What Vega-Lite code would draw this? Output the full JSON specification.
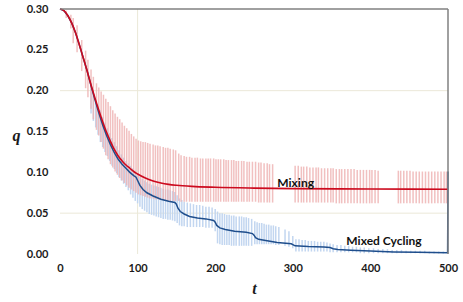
{
"$schema": "https://vega.github.io/schema/vega-lite/v6.json",
"width": 388, "height": 245,
"autosize": "none",
"padding": {"left": 60, "top": 9, "right": 15, "bottom": 48},
"background": "white",
"config": {"view": {"stroke": null},
  "axisX": {"domain": false, "ticks": false, "grid": false, "labelFlush": false, "labelFont": "Lato", "labelFontWeight": "bold", "labelFontSize": 11, "labelColor": "#1a1a1a", "labelPadding": 8,
     "titleFont": "Liberation Serif", "titleFontStyle": "italic", "titleFontWeight": "bold", "titleFontSize": 16, "titleColor": "#1a1a1a", "titleX": 194, "titleY": 34, "titleBaseline": "middle", "titleAlign": "center"},
  "axisY": {"domain": false, "ticks": false, "grid": false, "labelFlush": false, "labelFont": "Lato", "labelFontWeight": "bold", "labelFontSize": 11, "labelColor": "#1a1a1a", "labelPadding": 12,
     "titleFont": "Liberation Serif", "titleFontStyle": "italic", "titleFontWeight": "bold", "titleFontSize": 16, "titleColor": "#1a1a1a", "titleAngle": 0, "titleX": -44, "titleY": 126, "titleBaseline": "middle", "titleAlign": "center"}},
"datasets": {
"mixline": [{"t":0,"q":0.3},{"t":5,"q":0.298},{"t":10,"q":0.292},{"t":15,"q":0.283},{"t":20,"q":0.271},{"t":25,"q":0.256},{"t":30,"q":0.24},{"t":35,"q":0.224},{"t":40,"q":0.207},{"t":45,"q":0.191},{"t":50,"q":0.176},{"t":55,"q":0.162},{"t":60,"q":0.149},{"t":65,"q":0.138},{"t":70,"q":0.128},{"t":75,"q":0.12},{"t":80,"q":0.114},{"t":85,"q":0.109},{"t":90,"q":0.105},{"t":95,"q":0.101},{"t":100,"q":0.098},{"t":110,"q":0.093},{"t":120,"q":0.0895},{"t":130,"q":0.087},{"t":140,"q":0.0853},{"t":150,"q":0.0842},{"t":170,"q":0.0828},{"t":200,"q":0.0817},{"t":250,"q":0.0807},{"t":300,"q":0.0801},{"t":400,"q":0.0796},{"t":500,"q":0.0793}],
"cycline": [{"t":0,"q":0.3},{"t":5,"q":0.298},{"t":10,"q":0.292},{"t":15,"q":0.283},{"t":20,"q":0.271},{"t":25,"q":0.256},{"t":30,"q":0.24},{"t":35,"q":0.224},{"t":40,"q":0.206},{"t":45,"q":0.189},{"t":50,"q":0.173},{"t":55,"q":0.158},{"t":60,"q":0.145},{"t":65,"q":0.134},{"t":70,"q":0.124},{"t":75,"q":0.116},{"t":80,"q":0.11},{"t":85,"q":0.105},{"t":90,"q":0.1},{"t":95,"q":0.096},{"t":98,"q":0.094},{"t":100,"q":0.09},{"t":103,"q":0.084},{"t":107,"q":0.079},{"t":112,"q":0.075},{"t":120,"q":0.071},{"t":130,"q":0.067},{"t":140,"q":0.0645},{"t":148,"q":0.063},{"t":150,"q":0.061},{"t":152,"q":0.056},{"t":155,"q":0.052},{"t":160,"q":0.049},{"t":167,"q":0.046},{"t":177,"q":0.044},{"t":188,"q":0.043},{"t":198,"q":0.041},{"t":200,"q":0.039},{"t":202,"q":0.035},{"t":206,"q":0.032},{"t":213,"q":0.03},{"t":225,"q":0.028},{"t":240,"q":0.0265},{"t":248,"q":0.025},{"t":250,"q":0.023},{"t":252,"q":0.02},{"t":256,"q":0.018},{"t":265,"q":0.0165},{"t":280,"q":0.014},{"t":298,"q":0.0125},{"t":300,"q":0.0115},{"t":303,"q":0.01},{"t":320,"q":0.0092},{"t":340,"q":0.0087},{"t":348,"q":0.008},{"t":352,"q":0.0065},{"t":358,"q":0.0055},{"t":375,"q":0.0047},{"t":400,"q":0.0037},{"t":430,"q":0.0026},{"t":460,"q":0.002},{"t":499.5,"q":0.0016},{"t":500,"q":0.101}],
"mixbars": [{"t":8,"lo":0.289,"hi":0.298},{"t":14,"lo":0.276,"hi":0.293},{"t":17,"lo":0.258,"hi":0.289},{"t":22,"lo":0.247,"hi":0.28},{"t":28,"lo":0.224,"hi":0.262},{"t":33,"lo":0.203,"hi":0.249},{"t":36,"lo":0.192,"hi":0.238},{"t":40,"lo":0.178,"hi":0.226},{"t":43,"lo":0.165,"hi":0.217},{"t":47,"lo":0.152,"hi":0.209},{"t":50,"lo":0.145,"hi":0.204},{"t":53,"lo":0.137,"hi":0.199},{"t":56,"lo":0.129,"hi":0.195},{"t":59,"lo":0.121,"hi":0.19},{"t":62,"lo":0.116,"hi":0.186},{"t":65,"lo":0.11,"hi":0.181},{"t":68,"lo":0.106,"hi":0.176},{"t":71,"lo":0.101,"hi":0.172},{"t":74,"lo":0.097,"hi":0.168},{"t":77,"lo":0.093,"hi":0.165},{"t":80,"lo":0.09,"hi":0.161},{"t":83,"lo":0.087,"hi":0.157},{"t":86,"lo":0.084,"hi":0.154},{"t":89,"lo":0.081,"hi":0.151},{"t":92,"lo":0.079,"hi":0.147},{"t":95,"lo":0.077,"hi":0.144},{"t":98,"lo":0.075,"hi":0.141},{"t":101,"lo":0.073,"hi":0.139},{"t":104,"lo":0.072,"hi":0.138},{"t":107,"lo":0.071,"hi":0.137},{"t":110,"lo":0.07,"hi":0.137},{"t":113,"lo":0.069,"hi":0.136},{"t":116,"lo":0.068,"hi":0.135},{"t":120,"lo":0.068,"hi":0.134},{"t":123,"lo":0.067,"hi":0.133},{"t":126,"lo":0.067,"hi":0.133},{"t":129,"lo":0.066,"hi":0.132},{"t":133,"lo":0.066,"hi":0.131},{"t":136,"lo":0.066,"hi":0.13},{"t":139,"lo":0.065,"hi":0.13},{"t":142,"lo":0.065,"hi":0.129},{"t":146,"lo":0.065,"hi":0.128},{"t":149,"lo":0.065,"hi":0.127},{"t":153,"lo":0.065,"hi":0.123},{"t":156,"lo":0.064,"hi":0.121},{"t":160,"lo":0.064,"hi":0.12},{"t":163,"lo":0.064,"hi":0.119},{"t":167,"lo":0.064,"hi":0.119},{"t":170,"lo":0.064,"hi":0.118},{"t":174,"lo":0.064,"hi":0.118},{"t":177,"lo":0.064,"hi":0.118},{"t":181,"lo":0.064,"hi":0.117},{"t":184,"lo":0.064,"hi":0.117},{"t":188,"lo":0.064,"hi":0.117},{"t":191,"lo":0.064,"hi":0.117},{"t":194,"lo":0.064,"hi":0.117},{"t":198,"lo":0.064,"hi":0.117},{"t":201,"lo":0.064,"hi":0.116},{"t":204,"lo":0.064,"hi":0.116},{"t":207,"lo":0.064,"hi":0.116},{"t":211,"lo":0.064,"hi":0.116},{"t":214,"lo":0.064,"hi":0.115},{"t":217,"lo":0.064,"hi":0.115},{"t":221,"lo":0.064,"hi":0.115},{"t":224,"lo":0.064,"hi":0.115},{"t":227,"lo":0.064,"hi":0.114},{"t":230,"lo":0.064,"hi":0.114},{"t":234,"lo":0.064,"hi":0.114},{"t":237,"lo":0.064,"hi":0.114},{"t":241,"lo":0.064,"hi":0.113},{"t":244,"lo":0.064,"hi":0.113},{"t":248,"lo":0.064,"hi":0.113},{"t":252,"lo":0.064,"hi":0.113},{"t":256,"lo":0.063,"hi":0.112},{"t":259,"lo":0.063,"hi":0.112},{"t":263,"lo":0.063,"hi":0.111},{"t":267,"lo":0.063,"hi":0.111},{"t":270,"lo":0.063,"hi":0.11},{"t":274,"lo":0.063,"hi":0.11},{"t":303,"lo":0.063,"hi":0.108},{"t":307,"lo":0.063,"hi":0.108},{"t":311,"lo":0.063,"hi":0.107},{"t":314,"lo":0.063,"hi":0.107},{"t":318,"lo":0.063,"hi":0.107},{"t":322,"lo":0.063,"hi":0.106},{"t":326,"lo":0.063,"hi":0.106},{"t":330,"lo":0.063,"hi":0.106},{"t":333,"lo":0.063,"hi":0.106},{"t":337,"lo":0.063,"hi":0.105},{"t":341,"lo":0.063,"hi":0.105},{"t":345,"lo":0.063,"hi":0.105},{"t":349,"lo":0.063,"hi":0.105},{"t":352,"lo":0.063,"hi":0.105},{"t":356,"lo":0.062,"hi":0.104},{"t":360,"lo":0.062,"hi":0.104},{"t":363,"lo":0.062,"hi":0.104},{"t":367,"lo":0.062,"hi":0.104},{"t":371,"lo":0.062,"hi":0.104},{"t":375,"lo":0.062,"hi":0.104},{"t":379,"lo":0.062,"hi":0.104},{"t":383,"lo":0.062,"hi":0.103},{"t":387,"lo":0.062,"hi":0.103},{"t":391,"lo":0.062,"hi":0.103},{"t":395,"lo":0.062,"hi":0.103},{"t":399,"lo":0.062,"hi":0.103},{"t":402,"lo":0.062,"hi":0.103},{"t":406,"lo":0.062,"hi":0.103},{"t":410,"lo":0.062,"hi":0.102},{"t":436,"lo":0.062,"hi":0.102},{"t":439,"lo":0.062,"hi":0.102},{"t":443,"lo":0.062,"hi":0.102},{"t":447,"lo":0.062,"hi":0.102},{"t":451,"lo":0.062,"hi":0.102},{"t":455,"lo":0.062,"hi":0.101},{"t":459,"lo":0.062,"hi":0.101},{"t":463,"lo":0.062,"hi":0.101},{"t":467,"lo":0.062,"hi":0.101},{"t":471,"lo":0.062,"hi":0.101},{"t":475,"lo":0.062,"hi":0.101},{"t":479,"lo":0.062,"hi":0.101},{"t":483,"lo":0.062,"hi":0.101},{"t":487,"lo":0.062,"hi":0.101},{"t":491,"lo":0.062,"hi":0.101},{"t":495,"lo":0.062,"hi":0.101},{"t":498,"lo":0.062,"hi":0.101}],
"cycbars": [{"t":40,"lo":0.172,"hi":0.205},{"t":43,"lo":0.163,"hi":0.197},{"t":46,"lo":0.155,"hi":0.19},{"t":49,"lo":0.146,"hi":0.183},{"t":52,"lo":0.137,"hi":0.176},{"t":55,"lo":0.131,"hi":0.168},{"t":58,"lo":0.125,"hi":0.161},{"t":61,"lo":0.12,"hi":0.154},{"t":64,"lo":0.114,"hi":0.148},{"t":67,"lo":0.108,"hi":0.142},{"t":70,"lo":0.104,"hi":0.137},{"t":73,"lo":0.099,"hi":0.132},{"t":76,"lo":0.094,"hi":0.127},{"t":79,"lo":0.09,"hi":0.122},{"t":82,"lo":0.086,"hi":0.118},{"t":85,"lo":0.082,"hi":0.114},{"t":88,"lo":0.078,"hi":0.111},{"t":91,"lo":0.073,"hi":0.108},{"t":94,"lo":0.069,"hi":0.105},{"t":97,"lo":0.065,"hi":0.102},{"t":100,"lo":0.062,"hi":0.099},{"t":103,"lo":0.058,"hi":0.095},{"t":106,"lo":0.055,"hi":0.092},{"t":109,"lo":0.053,"hi":0.09},{"t":112,"lo":0.051,"hi":0.088},{"t":115,"lo":0.049,"hi":0.086},{"t":118,"lo":0.048,"hi":0.085},{"t":121,"lo":0.047,"hi":0.084},{"t":124,"lo":0.046,"hi":0.083},{"t":127,"lo":0.045,"hi":0.082},{"t":130,"lo":0.044,"hi":0.081},{"t":133,"lo":0.043,"hi":0.08},{"t":136,"lo":0.043,"hi":0.079},{"t":139,"lo":0.042,"hi":0.079},{"t":142,"lo":0.042,"hi":0.078},{"t":145,"lo":0.041,"hi":0.077},{"t":148,"lo":0.04,"hi":0.076},{"t":151,"lo":0.038,"hi":0.072},{"t":154,"lo":0.035,"hi":0.068},{"t":157,"lo":0.034,"hi":0.066},{"t":160,"lo":0.034,"hi":0.064},{"t":164,"lo":0.033,"hi":0.063},{"t":168,"lo":0.033,"hi":0.062},{"t":172,"lo":0.033,"hi":0.061},{"t":176,"lo":0.033,"hi":0.06},{"t":180,"lo":0.033,"hi":0.06},{"t":184,"lo":0.033,"hi":0.059},{"t":188,"lo":0.032,"hi":0.058},{"t":192,"lo":0.032,"hi":0.058},{"t":196,"lo":0.032,"hi":0.057},{"t":200,"lo":0.028,"hi":0.055},{"t":203,"lo":0.013,"hi":0.052},{"t":206,"lo":0.012,"hi":0.05},{"t":209,"lo":0.011,"hi":0.05},{"t":212,"lo":0.011,"hi":0.049},{"t":215,"lo":0.011,"hi":0.048},{"t":218,"lo":0.011,"hi":0.048},{"t":221,"lo":0.01,"hi":0.047},{"t":224,"lo":0.01,"hi":0.047},{"t":227,"lo":0.01,"hi":0.046},{"t":231,"lo":0.01,"hi":0.046},{"t":234,"lo":0.01,"hi":0.046},{"t":237,"lo":0.01,"hi":0.045},{"t":240,"lo":0.01,"hi":0.045},{"t":243,"lo":0.01,"hi":0.044},{"t":247,"lo":0.01,"hi":0.043},{"t":251,"lo":0.012,"hi":0.04},{"t":254,"lo":0.012,"hi":0.039},{"t":257,"lo":0.012,"hi":0.038},{"t":260,"lo":0.012,"hi":0.038},{"t":263,"lo":0.012,"hi":0.037},{"t":266,"lo":0.012,"hi":0.036},{"t":269,"lo":0.012,"hi":0.036},{"t":272,"lo":0.012,"hi":0.035},{"t":275,"lo":0.012,"hi":0.035},{"t":278,"lo":0.011,"hi":0.034},{"t":282,"lo":0.011,"hi":0.033},{"t":290,"lo":0.01,"hi":0.03},{"t":295,"lo":0.009,"hi":0.028},{"t":300,"lo":0.007,"hi":0.022},{"t":304,"lo":0.003,"hi":0.018},{"t":308,"lo":0.003,"hi":0.018},{"t":312,"lo":0.003,"hi":0.017},{"t":316,"lo":0.003,"hi":0.017},{"t":320,"lo":0.003,"hi":0.016},{"t":324,"lo":0.003,"hi":0.016},{"t":328,"lo":0.003,"hi":0.016},{"t":332,"lo":0.003,"hi":0.015},{"t":336,"lo":0.003,"hi":0.015},{"t":340,"lo":0.003,"hi":0.015},{"t":344,"lo":0.003,"hi":0.014},{"t":348,"lo":0.002,"hi":0.013},{"t":352,"lo":0.002,"hi":0.012},{"t":357,"lo":0.002,"hi":0.011},{"t":362,"lo":0.002,"hi":0.011},{"t":367,"lo":0.002,"hi":0.01},{"t":372,"lo":0.002,"hi":0.01},{"t":377,"lo":0.002,"hi":0.009},{"t":382,"lo":0.002,"hi":0.009},{"t":387,"lo":0.001,"hi":0.008},{"t":392,"lo":0.001,"hi":0.008},{"t":398,"lo":0.001,"hi":0.007},{"t":404,"lo":0.001,"hi":0.007},{"t":410,"lo":0.001,"hi":0.006},{"t":416,"lo":0.001,"hi":0.006},{"t":422,"lo":0.001,"hi":0.006},{"t":428,"lo":0.001,"hi":0.005},{"t":434,"lo":0.001,"hi":0.005},{"t":440,"lo":0.001,"hi":0.005},{"t":446,"lo":0.001,"hi":0.004},{"t":452,"lo":0.001,"hi":0.004},{"t":458,"lo":0.001,"hi":0.004},{"t":464,"lo":0.001,"hi":0.004},{"t":470,"lo":0.001,"hi":0.004},{"t":476,"lo":0.0005,"hi":0.003},{"t":482,"lo":0.0005,"hi":0.003},{"t":488,"lo":0.0005,"hi":0.003},{"t":494,"lo":0.0005,"hi":0.003}],
"vgrid": [{"t":100}],
"hgrid": [{"q":0.05},{"q":0.2}],
"frametop": [{"q":0.3}],
"frameright": [{"t":500}],
"labels": [{"label":"Mixing","t":280,"q":0.087},{"label":"Mixed Cycling","t":369,"q":0.016}]
},
"layer": [
{"data": {"name": "vgrid"}, "mark": {"type": "rule", "color": "#ebe8d8", "strokeWidth": 1},
 "encoding": {"x": {"field": "t", "type": "quantitative", "scale": {"domain": [0, 500], "nice": false},
   "axis": {"values": [0,100,200,300,400,500], "title": "t"}}}},
{"data": {"name": "hgrid"}, "mark": {"type": "rule", "color": "#ebe8d8", "strokeWidth": 1},
 "encoding": {"y": {"field": "q", "type": "quantitative", "scale": {"domain": [0, 0.3], "nice": false},
   "axis": {"values": [0,0.05,0.1,0.15,0.2,0.25,0.3], "format": ".2f", "title": "q"}}}},
{"data": {"name": "cycbars"}, "mark": {"type": "rule", "color": "#c2d6f0", "strokeWidth": 1.5},
 "encoding": {"x": {"field": "t", "type": "quantitative", "scale": {"domain": [0, 500], "nice": false}},
   "y": {"field": "lo", "type": "quantitative", "scale": {"domain": [0, 0.3], "nice": false}}, "y2": {"field": "hi"}}},
{"data": {"name": "mixbars"}, "mark": {"type": "rule", "color": "#eeb0b0", "strokeWidth": 1.5, "opacity": 0.8},
 "encoding": {"x": {"field": "t", "type": "quantitative", "scale": {"domain": [0, 500], "nice": false}},
   "y": {"field": "lo", "type": "quantitative", "scale": {"domain": [0, 0.3], "nice": false}}, "y2": {"field": "hi"}}},
{"data": {"name": "cycline"}, "mark": {"type": "line", "color": "#1f4e8c", "strokeWidth": 1.5},
 "encoding": {"x": {"field": "t", "type": "quantitative", "scale": {"domain": [0, 500], "nice": false}},
   "y": {"field": "q", "type": "quantitative", "scale": {"domain": [0, 0.3], "nice": false}}}},
{"data": {"name": "mixline"}, "mark": {"type": "line", "color": "#cc0a1e", "strokeWidth": 1.6, "interpolate": "monotone"},
 "encoding": {"x": {"field": "t", "type": "quantitative", "scale": {"domain": [0, 500], "nice": false}},
   "y": {"field": "q", "type": "quantitative", "scale": {"domain": [0, 0.3], "nice": false}}}},
{"data": {"name": "frametop"}, "mark": {"type": "rule", "color": "#808080", "strokeWidth": 1.5},
 "encoding": {"y": {"field": "q", "type": "quantitative", "scale": {"domain": [0, 0.3], "nice": false}}}},
{"data": {"name": "frameright"}, "mark": {"type": "rule", "color": "#808080", "strokeWidth": 1.5},
 "encoding": {"x": {"field": "t", "type": "quantitative", "scale": {"domain": [0, 500], "nice": false}}}},
{"data": {"name": "labels"}, "mark": {"type": "text", "align": "left", "baseline": "middle", "font": "Lato", "fontWeight": "bold", "fontSize": 12, "color": "#111111"},
 "encoding": {"x": {"field": "t", "type": "quantitative", "scale": {"domain": [0, 500], "nice": false}},
   "y": {"field": "q", "type": "quantitative", "scale": {"domain": [0, 0.3], "nice": false}},
   "text": {"field": "label"}}}
]
}
